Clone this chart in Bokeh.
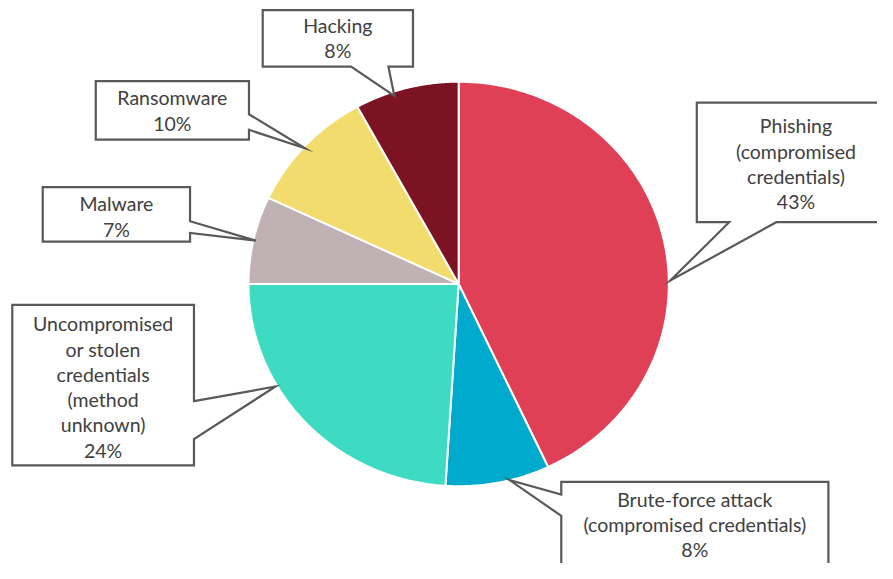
import numpy as np
from bokeh.plotting import figure
from bokeh.models import Range1d
from bokeh.embed import file_html
from bokeh.resources import INLINE
from bokeh.core.properties import value

# ---- data ----
categories = ["Phishing\n(compromised\ncredentials)",
              "Brute-force attack\n(compromised credentials)",
              "Uncompromised\nor stolen\ncredentials\n(method\nunknown)",
              "Malware",
              "Ransomware",
              "Hacking"]
shares = [43, 8, 24, 7, 10, 8]
colors = ["#E04055", "#00AACC", "#3DDBC2", "#C0B1B4", "#F2DC6E", "#7C1322"]

# ---- layout (pixel space of the picture) ----
W, H = 877, 563
CX, CY, RX, RY = 466.5, 291.5, 214, 208

p = figure(width=W, height=H, output_backend="svg", toolbar_location=None,
           x_range=Range1d(0, 893), y_range=Range1d(579, 0),
           min_border=0, outline_line_color=None)
p.axis.visible = False
p.grid.visible = False
p.background_fill_color = "white"
p.border_fill_color = "white"

total = float(sum(shares))
cum = np.concatenate([[0], np.cumsum(shares)]) / total
xs, ys = [], []
for i in range(len(shares)):
    t = np.linspace(cum[i], cum[i + 1], 120) * 2 * np.pi
    xs.append(list(np.concatenate([[CX], CX + RX * np.sin(t), [CX]])))
    ys.append(list(np.concatenate([[CY], CY - RY * np.cos(t), [CY]])))
p.patches(xs, ys, fill_color=colors, line_color="white", line_width=2)

# callout shapes (layout geometry), order matches categories
callouts = [
    [(709, 105), (905, 105), (905, 228), (790, 228), (682, 288), (742, 228), (709, 228)],
    [(571, 495), (843, 495), (843, 600), (571, 600), (571, 530), (518, 493), (571, 508)],
    [(12, 313), (197, 313), (197, 412), (280, 397), (197, 451), (197, 478), (12, 478)],
    [(43, 192), (193, 192), (193, 227), (260, 247), (193, 239), (193, 248), (43, 248)],
    [(97, 83), (253, 83), (253, 117), (310, 152), (253, 133), (253, 143), (97, 143)],
    [(267, 10), (420, 10), (420, 68), (395, 68), (401, 98), (357, 68), (267, 68)],
]
label_pos = [(810, 168), (707, 539), (104.5, 397.5), (118, 222), (175, 113), (343.5, 38.5)]

p.patches([[q[0] for q in c] for c in callouts], [[q[1] for q in c] for c in callouts],
          fill_color="white", line_color="#595959", line_width=2.2, line_join="miter")

texts = [f"{c}\n{s}%" for c, s in zip(categories, shares)]
p.text(x=[l[0] for l in label_pos], y=[l[1] for l in label_pos], text=texts,
       text_align="center", text_baseline="middle",
       text_font=value("Lato"), text_font_size="19.5px", text_color="#404040",
       text_line_height=1.1)

open("out.html", "w").write(file_html(p, INLINE))
